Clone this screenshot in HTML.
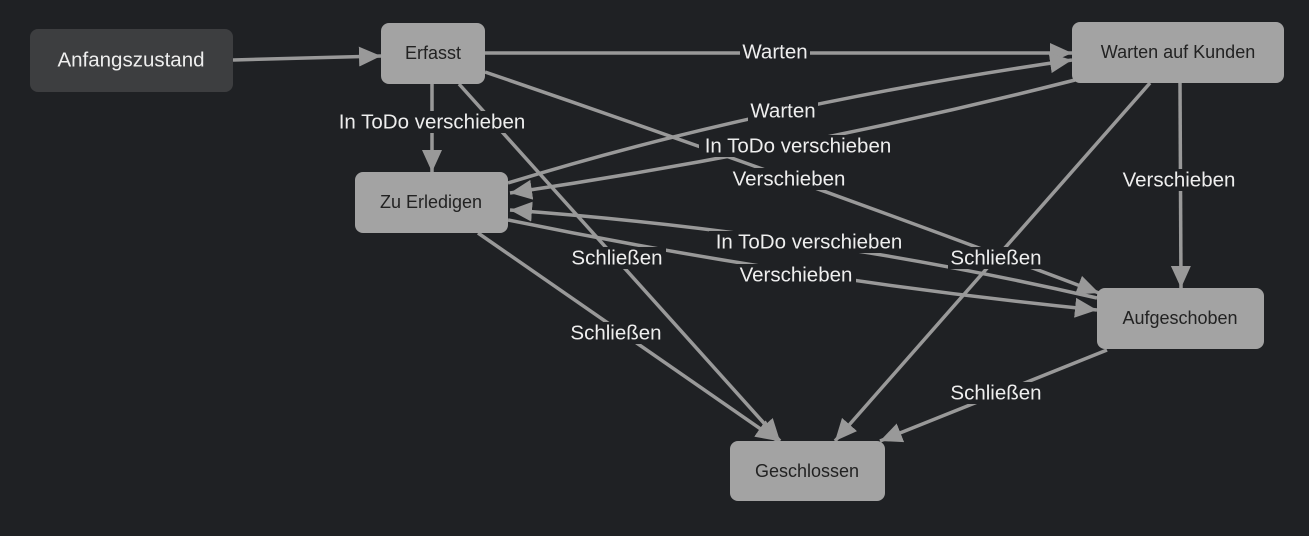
<!DOCTYPE html>
<html><head><meta charset="utf-8"><style>
html,body{margin:0;padding:0;background:#1f2124;}
svg{display:block}
text{font-family:"Liberation Sans",Arial,sans-serif}
.n{fill:#a3a3a3}
.nt{fill:#222;font-size:18px;text-anchor:middle;dominant-baseline:central}
.e{stroke:#999;stroke-width:3.5;fill:none;marker-end:url(#a)}
.lb{fill:#1f2124}
.lt{fill:#eee;font-size:20.5px;text-anchor:middle;dominant-baseline:central}
</style></head><body>
<svg width="1309" height="536" viewBox="0 0 1309 536">
<defs><marker id="a" markerUnits="userSpaceOnUse" markerWidth="24" markerHeight="20" refX="22" refY="10" orient="auto"><path d="M0,0 L22,10 L0,20 z" fill="#999"/></marker></defs>
<g>
<line class="e" x1="233" y1="60" x2="381" y2="56"/>
<line class="e" x1="485" y1="53" x2="1072" y2="53"/>
<line class="e" x1="432" y1="84" x2="432" y2="172"/>
<line class="e" x1="459" y1="84" x2="780" y2="441"/>
<path class="e" d="M485,72 Q790,176 1099,293"/>
<path class="e" d="M508,183 Q760,105 1072,60"/>
<path class="e" d="M1075,80 Q800,150 510,193"/>
<line class="e" x1="1180" y1="83" x2="1181" y2="288"/>
<line class="e" x1="1150" y1="83" x2="835" y2="441"/>
<path class="e" d="M1097,298 Q810,232 510,210"/>
<path class="e" d="M508,220 Q800,280 1097,310"/>
<line class="e" x1="478" y1="233" x2="778" y2="441"/>
<line class="e" x1="1107" y1="350" x2="880" y2="441"/>
</g>
<g>
<rect class="lb" x="740" y="41" width="70" height="22"/><text class="lt" x="775" y="52">Warten</text>
<rect class="lb" x="332" y="111" width="202" height="22"/><text class="lt" x="432" y="122">In ToDo verschieben</text>
<rect class="lb" x="570" y="247" width="96" height="22"/><text class="lt" x="617" y="258">Schließen</text>
<rect class="lb" x="748" y="100" width="70" height="22"/><text class="lt" x="783" y="111">Warten</text>
<rect class="lb" x="699" y="135" width="200" height="22"/><text class="lt" x="798" y="146">In ToDo verschieben</text>
<rect class="lb" x="729" y="168" width="120" height="22"/><text class="lt" x="789" y="179">Verschieben</text>
<rect class="lb" x="1119" y="169" width="120" height="22"/><text class="lt" x="1179" y="180">Verschieben</text>
<rect class="lb" x="948" y="247" width="96" height="22"/><text class="lt" x="996" y="258">Schließen</text>
<rect class="lb" x="709" y="231" width="200" height="22"/><text class="lt" x="809" y="242">In ToDo verschieben</text>
<rect class="lb" x="736" y="264" width="120" height="22"/><text class="lt" x="796" y="275">Verschieben</text>
<rect class="lb" x="568" y="322" width="96" height="22"/><text class="lt" x="616" y="333">Schließen</text>
<rect class="lb" x="948" y="382" width="96" height="22"/><text class="lt" x="996" y="393">Schließen</text>
</g>
<g>
<rect x="30" y="29" width="203" height="63" rx="8" fill="#3d3e40"/><text class="nt" x="131" y="60" style="fill:#eee;font-size:20.5px">Anfangszustand</text>
<rect class="n" x="381" y="23" width="104" height="61" rx="8"/><text class="nt" x="433" y="53">Erfasst</text>
<rect class="n" x="1072" y="22" width="212" height="61" rx="8"/><text class="nt" x="1178" y="52">Warten auf Kunden</text>
<rect class="n" x="355" y="172" width="153" height="61" rx="8"/><text class="nt" x="431" y="202">Zu Erledigen</text>
<rect class="n" x="1097" y="288" width="167" height="61" rx="8"/><text class="nt" x="1180" y="318">Aufgeschoben</text>
<rect class="n" x="730" y="441" width="155" height="60" rx="8"/><text class="nt" x="807" y="471">Geschlossen</text>
</g>
</svg>
</body></html>
